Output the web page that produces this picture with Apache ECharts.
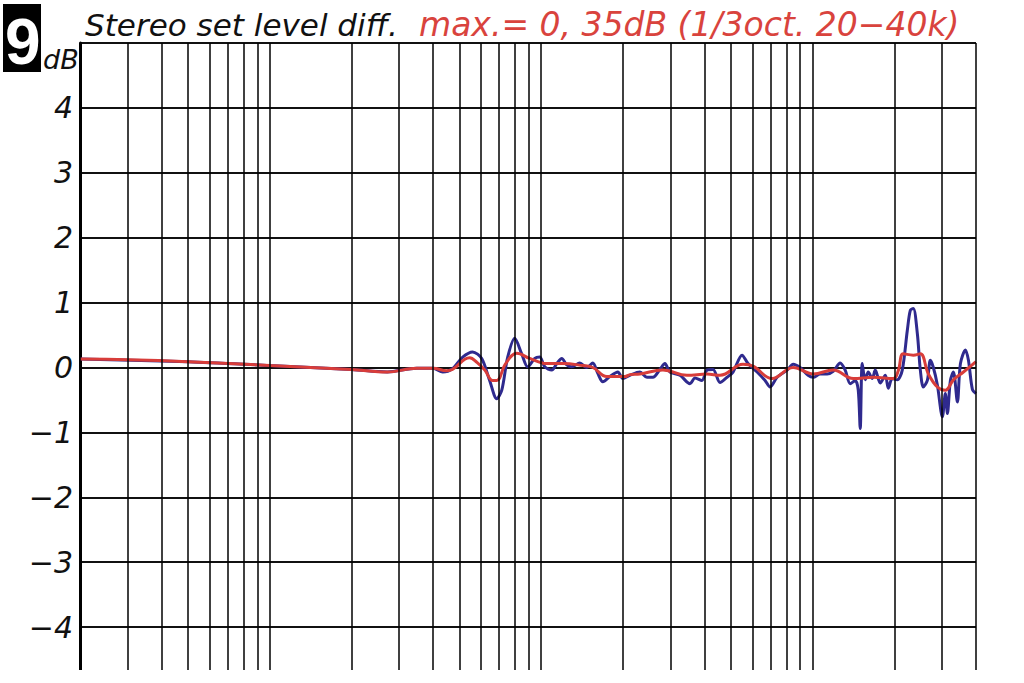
<!DOCTYPE html>
<html>
<head>
<meta charset="utf-8">
<script src="https://cdn.jsdelivr.net/npm/echarts@6/dist/echarts.min.js"></script>
<style>html,body{margin:0;padding:0;background:#fff}#c{width:1024px;height:683px}</style>
</head>
<body>
<div id="c"></div>
<script>
// Frequency grid (Hz)
var gridFreqs = [20,30,40,50,60,70,80,90,100,200,300,400,500,600,700,800,900,1000,2000,3000,4000,5000,6000,7000,8000,9000,10000,20000,30000,40000];
var yTicks = [-5,-4,-3,-2,-1,0,1,2,3,4,5];

// Red: 1/3-octave smoothed difference
var redFreq = [20,30,50,100,200,271,348,400,448,471,545,580,620,663,686,740,813,908,1049,1201,1424,1550,1746,2035,2122,2311,2810,3446,4083,4559,5544,6036,7092,8479,10052,11908,14117,16731,19830,20687,21585,23500,24944,26702,28823,30843,33020,35960,40000];
var redDb   = [0.13,0.12,0.09,0.03,-0.03,-0.07,-0.01,-0.01,-0.05,-0.03,0.15,0.08,-0.04,-0.2,-0.2,0.06,0.22,0.14,0.06,0.06,0.03,0.0,-0.14,-0.14,-0.11,-0.1,-0.04,-0.12,-0.1,-0.12,0.05,0.02,-0.17,0.0,-0.1,-0.04,-0.17,-0.15,-0.17,-0.05,0.21,0.19,0.21,-0.1,-0.3,-0.35,-0.19,-0.07,0.09];

// Blue: raw difference
var blueFreq = [20,50,100,200,271,348,400,434,471,514,559,604,646,686,716,753,799,848,892,947,988,1031,1094,1142,1191,1243,1297,1388,1473,1550,1617,1688,1791,1916,2000,2122,2311,2453,2580,2739,2858,2981,3246,3534,3688,3912,4083,4297,4559,4840,5092,5497,5784,6245,6683,6974,7404,8060,8479,8996,9628,10052,10670,11317,11908,12636,13187,13761,14358,14731,14981,15240,15630,16032,16590,17020,17762,18535,19014,19662,20511,21401,22334,22912,23500,24322,24944,25591,26475,27155,27859,28823,30075,30843,31383,32190,33020,34161,35048,36568,37514,38808,40000];
var blueDb   = [0.13,0.09,0.03,-0.03,-0.07,-0.01,-0.01,-0.07,-0.02,0.16,0.24,0.14,-0.2,-0.48,-0.35,0.16,0.45,0.21,0.01,0.14,0.16,0.01,-0.04,0.06,0.14,0.04,0.01,0.07,0.0,0.07,-0.09,-0.22,-0.14,-0.07,-0.17,-0.12,-0.07,-0.15,-0.15,-0.03,0.06,-0.07,-0.12,-0.25,-0.16,-0.2,-0.04,-0.03,-0.23,-0.15,-0.07,0.19,0.06,-0.07,-0.2,-0.3,-0.15,-0.04,0.05,0.0,-0.12,-0.15,-0.1,-0.1,-0.06,0.07,-0.04,-0.25,-0.2,-0.35,-0.94,0.06,-0.19,-0.07,-0.17,-0.04,-0.24,-0.12,-0.32,-0.17,-0.19,-0.04,0.57,0.88,0.91,0.52,-0.04,-0.3,-0.2,0.11,0.0,-0.27,-0.76,-0.4,-0.71,-0.2,-0.07,-0.53,0.06,0.27,0.11,-0.34,-0.4];

function pairs(f, d) { return f.map(function (v, i) { return [v, d[i]]; }); }

var FONT = 'DejaVu Sans';
var chart = echarts.init(document.getElementById('c'), null, {renderer: 'svg'});
chart.setOption({
  animation: false,
  backgroundColor: '#fff',
  title: [
    {text: 'Stereo set level diff.', left: 80, top: 4,
     textStyle: {fontFamily: FONT, fontStyle: 'italic', fontWeight: 'normal', fontSize: 31, color: '#111'}},
    {text: 'max.= 0, 35dB (1/3oct. 20\u221240k)', left: 414, top: 3,
     textStyle: {fontFamily: FONT, fontStyle: 'italic', fontWeight: 'normal', fontSize: 33, color: '#d9433d'}}
  ],
  grid: {left: 80, top: 43, width: 896, height: 649, containLabel: false, outerBoundsMode: 'none'},
  xAxis: {
    type: 'log', logBase: 10, min: 20, max: 40000,
    axisLine: {show: false}, axisTick: {show: false}, axisLabel: {show: false},
    splitLine: {show: false}, minorSplitLine: {show: false}
  },
  yAxis: {
    type: 'value', min: -5, max: 5, interval: 1,
    axisLine: {show: true, lineStyle: {color: '#000', width: 3}},
    axisTick: {show: false},
    axisLabel: {
      margin: 7, color: '#111', fontFamily: FONT, fontStyle: 'italic', fontSize: 30,
      formatter: function (v) { return (v === 5 || v === -5) ? '' : String(v).replace('-', '\u2212'); }
    },
    splitLine: {show: true, lineStyle: {color: '#111', width: 2}}
  },
  series: [
    {type: 'line', data: [], silent: true, z: 1,
     markLine: {silent: true, symbol: ['none', 'none'], label: {show: false},
       lineStyle: {color: '#000', width: 1.5, type: 'solid'},
       emphasis: {disabled: true},
       data: gridFreqs.map(function (f) { return {xAxis: f}; })}},
    {name: 'raw', type: 'line', data: pairs(blueFreq, blueDb), showSymbol: false, smooth: 0.3, z: 3,
     lineStyle: {color: '#2f2a8e', width: 3}},
    {name: 'smoothed', type: 'line', data: pairs(redFreq, redDb), showSymbol: false, smooth: 0.4, z: 4,
     lineStyle: {color: '#d83d3a', width: 3}}
  ],
  graphic: [
    {type: 'rect', left: 0, top: 670, shape: {width: 1024, height: 13}, style: {fill: '#fff'}, z: 100, silent: true},
    {type: 'rect', left: 3, top: 4, shape: {width: 38, height: 68}, style: {fill: '#000'}, z: 100},
    {type: 'text', left: 5, top: 10, z: 101,
     style: {text: '9', fill: '#fff', font: 'bold 64px "Liberation Sans"', lineHeight: 56}},
    {type: 'text', left: 43, top: 46, z: 101,
     style: {text: 'dB', fill: '#111', font: 'italic 27px "DejaVu Sans"'}}
  ]
});
</script>
</body>
</html>
